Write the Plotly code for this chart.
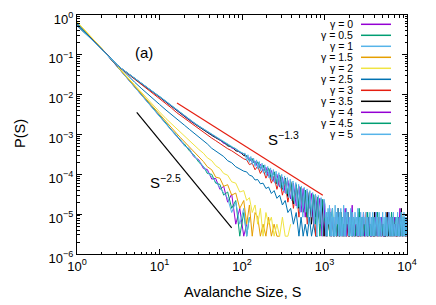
import plotly.graph_objects as go

# quantised probability levels (1..6 events per bin)
F, F2, F3, F4, F5, F6 = 2.8e-6, 5.6e-6, 8.4e-6, 1.12e-5, 1.4e-5, 1.68e-5

# avalanche sizes (main grid up to ~1e3)
S_MAIN = [1, 2, 3, 4, 5, 6, 7, 8, 9, 10,
          12, 14, 16, 18, 20, 23, 26, 30, 34, 38, 43, 48, 54, 60, 67, 75, 84, 94, 105,
          114, 123, 133, 144, 155, 167, 180, 195, 210, 227, 245, 265, 286, 309, 334, 360, 389, 420, 454, 490,
          520, 551, 584, 619, 656, 696, 738, 782, 829, 879, 932, 988]
# coarse tail sizes 1e3..1e4
S_TAIL = [1028, 1069, 1112, 1157, 1203, 1251, 1301, 1353, 1407, 1463, 1522, 1583, 1646, 1712, 1780,
          1851, 1925, 2002, 2082, 2166, 2252, 2342, 2436, 2533, 2635, 2740, 2850, 2964, 3082, 3206,
          3334, 3467, 3606, 3750, 3900, 4056, 4218, 4387, 4562, 4745, 4935, 5132, 5337, 5551, 5773,
          6004, 6244, 6494, 6754, 7024, 7305, 7597, 7901, 8217, 8545, 8887, 9243, 9612, 9997]
# finer sizes used by the gamma = 5 curve
S_MID_FINE = [109, 114, 118, 123, 128, 133, 138, 144, 150, 156, 162, 168, 175, 182, 189, 197, 205, 213,
              222, 230, 240, 249, 259, 270, 280, 292, 303, 316, 328, 341, 355, 369, 384, 399, 415, 432,
              449, 467, 486, 505, 525, 546, 568, 591, 615, 639, 665, 692, 719, 748, 778, 809, 842, 875,
              910, 947, 985]
S_TAIL_FINE = [1020, 1040, 1061, 1082, 1104, 1126, 1149, 1172, 1195, 1219, 1243, 1268, 1294, 1319, 1346,
               1373, 1400, 1428, 1457, 1486, 1516, 1546, 1577, 1608, 1641, 1673, 1707, 1741, 1776, 1811,
               1848, 1885, 1922, 1961, 2000, 2040, 2081, 2122, 2165, 2208, 2252, 2297, 2343, 2390, 2438,
               2487, 2536, 2587, 2639, 2692, 2745, 2800, 2856, 2913, 2972, 3031, 3092, 3154, 3217, 3281,
               3347, 3414, 3482, 3551, 3623, 3695, 3769, 3844, 3921, 4000, 4080, 4161, 4245, 4329, 4416,
               4505, 4595, 4687, 4780, 4876, 4973, 5073, 5174, 5278, 5383, 5491, 5601, 5713, 5827, 5944,
               6063, 6184, 6307, 6434, 6562, 6694, 6827, 6964, 7103, 7245, 7390, 7538, 7689, 7842, 7999,
               8159, 8322, 8489, 8659, 8832, 9009, 9189, 9373, 9560, 9751, 9946]

P_G00 = [0.646, 0.141, 0.0537, 0.0269, 0.0158, 0.0102, 0.00708, 0.00513, 0.00389, 0.00295,
         1.91e-3, 1.35e-3, 9.3e-4, 7.4e-4, 5.4e-4, 4.3e-4, 2.8e-4, 2.3e-4, 1.41e-4, 1.32e-4,
         7.6e-5, 7.9e-5, 4.2e-5, 5.0e-5, 2.0e-5, 3.2e-5, F2, 1.4e-5, F,
         F2]
P_G05 = [0.63, 0.142, 0.0540, 0.0272, 0.0160, 0.0103, 0.0071, 0.0052, 0.0039, 0.0030,
         1.93e-3, 1.28e-3, 9.8e-4, 7.0e-4, 5.8e-4, 3.9e-4, 3.1e-4, 2.0e-4, 1.6e-4, 1.05e-4,
         1.0e-4, 6.0e-5, 5.6e-5, 3.0e-5, 3.6e-5, 1.4e-5, 2.2e-5, F, 1.1e-5,
         F, F3]
P_G10 = [0.64, 0.140, 0.0535, 0.0268, 0.0157, 0.0101, 0.0070, 0.0051, 0.0038, 0.0029,
         1.88e-3, 1.32e-3, 9.1e-4, 7.6e-4, 5.2e-4, 4.4e-4, 2.9e-4, 2.2e-4, 1.5e-4, 1.15e-4,
         8.5e-5, 6.6e-5, 4.6e-5, 3.4e-5, 2.5e-5, 1.1e-5, 2.0e-5, F2, 1.4e-5,
         F, F3]
P_G15 = [0.66, 0.143, 0.0545, 0.0275, 0.0162, 0.0106, 0.0074, 0.0054, 0.0041, 0.0031,
         2.1e-3, 1.45e-3, 1.08e-3, 8.3e-4, 6.6e-4, 4.8e-4, 3.9e-4, 2.7e-4, 2.1e-4, 1.55e-4,
         1.3e-4, 8.5e-5, 8.0e-5, 5.0e-5, 5.5e-5, 3.0e-5, 3.4e-5, 1.4e-5, 2.2e-5,
         F2, 1.7e-5, F, 1.1e-5, F3, F, F2, F, F3, F, F2, F, F]
P_G20 = [0.68, 0.145, 0.0550, 0.0285, 0.0170, 0.0112, 0.0080, 0.0060, 0.0047, 0.0037,
         2.5e-3, 1.85e-3, 1.40e-3, 1.15e-3, 9.0e-4, 7.2e-4, 5.5e-4, 4.2e-4, 3.4e-4, 2.6e-4,
         2.2e-4, 1.65e-4, 1.4e-4, 1.05e-4, 9.5e-5, 6.5e-5, 6.0e-5, 3.6e-5, 3.9e-5,
         2.2e-5, 2.6e-5, 1.1e-5, 1.7e-5, F2, 1.4e-5, F, 1.1e-5, F2, F3, F, F2, F, F3, F, F, F2]
P_G25 = [0.60, 0.139, 0.0570, 0.0320, 0.0205, 0.0145, 0.0108, 0.0084, 0.0068, 0.0057,
         4.1e-3, 3.2e-3, 2.5e-3, 2.1e-3, 1.72e-3, 1.35e-3, 1.10e-3, 8.6e-4, 7.1e-4, 5.8e-4,
         4.5e-4, 3.9e-4, 3.2e-4, 2.8e-4, 2.2e-4, 1.95e-4, 1.55e-4, 1.35e-4, 1.2e-4,
         1.15e-4, 9.5e-5, 9.0e-5, 7.2e-5, 7.4e-5, 5.8e-5, 6.0e-5, 4.4e-5, 4.8e-5, 3.3e-5,
         3.9e-5, 2.5e-5, 3.0e-5, 1.7e-5, 2.2e-5, 1.1e-5, 1.4e-5, F2, 1.1e-5, F,
         F3, F, F2, F, F3, F, F2, F, F]
P_G30 = [0.55, 0.138, 0.0560, 0.0352, 0.0246, 0.0186, 0.0146, 0.0118, 0.0097, 0.0082,
         6.0e-3, 4.6e-3, 3.6e-3, 3.0e-3, 2.52e-3, 2.03e-3, 1.68e-3, 1.35e-3, 1.14e-3, 9.6e-4,
         8.1e-4, 7.0e-4, 5.9e-4, 5.3e-4, 4.4e-4, 3.9e-4, 3.3e-4, 2.9e-4, 2.45e-4,
         2.3e-4, 1.75e-4, 1.9e-4, 1.3e-4, 1.6e-4, 1.05e-4, 1.35e-4, 8.0e-5, 1.1e-4, 6.0e-5,
         9.0e-5, 4.2e-5, 7.4e-5, 3.0e-5, 6.0e-5, 2.0e-5, 5.0e-5, F5, 4.2e-5, F3,
         3.6e-5, F4, 3.0e-5, F2, 2.6e-5, F3, 2.2e-5, F, 2.0e-5, F2, F6, F]
P_G30_TAIL = [F3, F, F2, F4, F, F2, F, F3, F, F2, F, F4, F, F2, F, F3, F, F, F2, F,
              F3, F, F2, F, F, F3, F, F2, F, F4, F, F2, F, F3, F, F, F2, F, F3, F,
              F2, F, F, F4, F, F2, F, F3, F, F2, F, F, F3, F, F2, F, F3, F, F]
P_G35 = [0.55, 0.138, 0.0562, 0.0355, 0.0251, 0.0191, 0.0151, 0.0123, 0.0102, 0.0087,
         6.46e-3, 5.01e-3, 3.98e-3, 3.31e-3, 2.82e-3, 2.29e-3, 1.91e-3, 1.55e-3, 1.32e-3, 1.12e-3,
         9.5e-4, 8.3e-4, 7.1e-4, 6.4e-4, 5.2e-4, 4.9e-4, 3.9e-4, 3.7e-4, 2.95e-4,
         2.9e-4, 2.2e-4, 2.45e-4, 1.75e-4, 2.0e-4, 1.4e-4, 1.7e-4, 1.1e-4, 1.4e-4, 8.0e-5,
         1.15e-4, 5.8e-5, 9.5e-5, 4.2e-5, 8.0e-5, 2.8e-5, 6.6e-5, 1.8e-5, 5.5e-5, F5,
         4.7e-5, F4, 4.0e-5, F3, 3.5e-5, F2, 3.0e-5, F3, 2.6e-5, F2, 2.3e-5, F]
P_G35_TAIL = [F3, F, F2, F4, F, F3, F, F2, F, F5, F, F2, F3, F, F2, F, F4, F, F2, F,
              F3, F, F2, F, F4, F, F2, F3, F, F2, F, F3, F, F2, F, F4, F, F2, F, F3,
              F, F2, F, F, F4, F, F2, F, F3, F, F2, F, F3, F, F5, F, F2, F, F3]
P_G40 = [0.55, 0.138, 0.0563, 0.0357, 0.0253, 0.0193, 0.0153, 0.0125, 0.0104, 0.0089,
         6.6e-3, 5.1e-3, 4.05e-3, 3.38e-3, 2.88e-3, 2.34e-3, 1.95e-3, 1.59e-3, 1.35e-3, 1.15e-3,
         9.8e-4, 8.5e-4, 7.3e-4, 6.0e-4, 5.7e-4, 4.6e-4, 4.3e-4, 3.5e-4, 3.25e-4,
         2.75e-4, 2.6e-4, 2.0e-4, 2.15e-4, 1.5e-4, 1.8e-4, 1.2e-4, 1.5e-4, 9.0e-5, 1.25e-4,
         6.5e-5, 1.0e-4, 4.8e-5, 8.5e-5, 3.4e-5, 7.0e-5, 2.4e-5, 6.0e-5, 1.6e-5, 5.0e-5,
         F4, 4.4e-5, F3, 3.8e-5, F5, 3.3e-5, F2, 2.9e-5, F3, 2.5e-5, F, 2.2e-5]
P_G40_TAIL = [F, F3, F2, F5, F, F3, F, F2, F4, F, F3, F, F2, F, F5, F, F3, F, F2, F6,
              F, F2, F, F3, F, F2, F, F4, F, F2, F, F3, F, F, F2, F, F4, F, F2, F,
              F3, F, F, F2, F, F4, F, F2, F, F3, F, F2, F, F5, F, F2, F, F3, F]
P_G45 = [0.545, 0.1375, 0.0564, 0.0359, 0.0255, 0.0195, 0.0155, 0.0126, 0.0105, 0.0090,
         6.7e-3, 5.2e-3, 4.15e-3, 3.45e-3, 2.94e-3, 2.38e-3, 1.99e-3, 1.62e-3, 1.38e-3, 1.17e-3,
         9.9e-4, 8.7e-4, 7.4e-4, 6.6e-4, 5.6e-4, 4.8e-4, 4.4e-4, 3.6e-4, 3.3e-4,
         2.9e-4, 2.3e-4, 2.45e-4, 1.8e-4, 2.05e-4, 1.45e-4, 1.7e-4, 1.15e-4, 1.4e-4, 8.5e-5,
         1.15e-4, 6.2e-5, 9.2e-5, 4.5e-5, 7.6e-5, 3.2e-5, 6.4e-5, 2.2e-5, 5.4e-5, 1.5e-5,
         4.6e-5, F5, 4.0e-5, F3, 3.5e-5, F4, 3.1e-5, F2, 2.7e-5, F, 2.4e-5, F3]
P_G45_TAIL = [F2, F, F4, F, F3, F5, F, F2, F, F3, F, F4, F, F2, F, F3, F2, F, F4, F,
              F3, F, F2, F, F5, F, F3, F, F2, F, F4, F, F2, F, F3, F, F2, F4, F, F3,
              F, F2, F, F3, F, F2, F, F4, F, F2, F3, F, F2, F, F4, F, F3, F, F2]
P_G50 = [0.54, 0.137, 0.0565, 0.0360, 0.0256, 0.0196, 0.0156, 0.0127, 0.0106, 0.0091,
         6.8e-3, 5.25e-3, 4.2e-3, 3.48e-3, 2.97e-3, 2.41e-3, 2.01e-3, 1.64e-3, 1.39e-3, 1.18e-3,
         1.0e-3, 8.8e-4, 7.5e-4, 6.5e-4, 5.7e-4, 4.95e-4, 4.3e-4, 3.75e-4, 3.3e-4]
P_G50_MID = [3.4e-4, 2.2e-4, 3.1e-4, 2.0e-4, 2.8e-4, 1.78e-4, 2.57e-4, 1.58e-4, 2.3e-4, 1.38e-4,
             2.1e-4, 1.23e-4, 1.9e-4, 1.07e-4, 1.74e-4, 9.3e-5, 1.58e-4, 8.1e-5, 1.45e-4, 7.1e-5,
             1.32e-4, 6.0e-5, 1.2e-4, 5.2e-5, 1.1e-4, 4.5e-5, 1.0e-4, 3.8e-5, 9.1e-5, 3.2e-5,
             8.3e-5, 2.6e-5, 7.6e-5, 2.2e-5, 6.8e-5, 1.8e-5, 6.2e-5, F5, 5.6e-5, F4,
             5.1e-5, F3, 4.7e-5, F4, 4.3e-5, F2, 3.9e-5, F3, 3.5e-5, F2,
             3.2e-5, F, 2.95e-5, F2, 2.6e-5, F, 2.4e-5]
P_G50_TAIL = [F6, F, F4, F, F5, F2, F6, F, F4, F, F5, F, F3, F, F6, F, F4, F2, F5, F,
              F4, F, F5, F, F3, F, F6, F, F4, F, F5, F2, F4, F, F3, F, F5, F, F4, F,
              F3, F, F4, F2, F3, F, F5, F, F3, F, F4, F, F3, F, F4, F2, F3, F, F4, F,
              F3, F, F2, F4, F, F3, F, F4, F, F3, F, F2, F4, F, F3, F, F4, F, F3, F,
              F2, F4, F, F3, F, F4, F, F3, F, F2, F4, F, F3, F, F3, F, F4, F, F2, F,
              F3, F, F4, F, F3, F, F2, F4, F, F3, F, F4, F, F3, F, F3]

GAMMA_LABELS = ["0", "0.5", "1", "1.5", "2", "2.5", "3", "3.5", "4", "4.5", "5"]
COLORS = ["#9400D3", "#009E73", "#56B4E9", "#E69F00", "#F0E442", "#0072B2",
          "#E51E10", "#000000", "#9400D3", "#009E73", "#56B4E9"]


def build(parts):
    xs, ys = [], []
    for s, p in parts:
        n = min(len(s), len(p))
        xs += list(s[:n])
        ys += list(p[:n])
    return xs, ys


CURVES = [
    build([(S_MAIN, P_G00)]),
    build([(S_MAIN, P_G05)]),
    build([(S_MAIN, P_G10)]),
    build([(S_MAIN, P_G15)]),
    build([(S_MAIN, P_G20)]),
    build([(S_MAIN, P_G25)]),
    build([(S_MAIN, P_G30), (S_TAIL, P_G30_TAIL)]),
    build([(S_MAIN, P_G35), (S_TAIL, P_G35_TAIL)]),
    build([(S_MAIN, P_G40), (S_TAIL, P_G40_TAIL)]),
    build([(S_MAIN, P_G45), (S_TAIL, P_G45_TAIL)]),
    build([(S_MAIN, P_G50), (S_MID_FINE, P_G50_MID), (S_TAIL_FINE, P_G50_TAIL)]),
]

REF_STEEP_S = [5.3, 75]
REF_STEEP_P = [3.6e-3, 4.5e-6]
REF_SHALLOW_S = [16.3, 955]
REF_SHALLOW_P = [6.2e-3, 3.0e-5]

X_TICKS = [1, 10, 100, 1000, 10000]
X_TICKTEXT = ["10<sup>0</sup>", "10<sup>1</sup>", "10<sup>2</sup>", "10<sup>3</sup>", "10<sup>4</sup>"]
Y_TICKS = [1e-6, 1e-5, 1e-4, 1e-3, 1e-2, 1e-1, 1]
Y_TICKTEXT = ["10<sup>−6</sup>", "10<sup>−5</sup>", "10<sup>−4</sup>", "10<sup>−3</sup>",
              "10<sup>−2</sup>", "10<sup>−1</sup>", "10<sup>0</sup>"]

FONT = "Liberation Sans, Arial, Helvetica, sans-serif"

fig = go.Figure()
for (xs, ys), c in zip(CURVES, COLORS):
    fig.add_trace(go.Scatter(x=xs, y=ys, mode="lines", line=dict(color=c, width=1),
                             showlegend=False, hoverinfo="skip"))

fig.add_trace(go.Scatter(x=REF_STEEP_S, y=REF_STEEP_P, mode="lines",
                         line=dict(color="black", width=1.2), showlegend=False))
fig.add_trace(go.Scatter(x=REF_SHALLOW_S, y=REF_SHALLOW_P, mode="lines",
                         line=dict(color="#E51E10", width=1.2), showlegend=False))

minor_x = [m * 10 ** k for k in range(0, 4) for m in range(2, 10)]
minor_y = [m * 10.0 ** k for k in range(-6, 0) for m in range(2, 10)]

axis_common = dict(type="log", showgrid=False, zeroline=False, showline=True,
                   linecolor="black", linewidth=1, mirror="allticks",
                   ticks="inside", ticklen=5, tickwidth=1, tickcolor="black",
                   tickfont=dict(family=FONT, size=13, color="black"),
                   tickmode="array", ticklabeloverflow="allow")

fig.update_xaxes(range=[0, 4], tickvals=X_TICKS, ticktext=X_TICKTEXT,
                 minor=dict(tickmode="array", tickvals=minor_x, ticks="inside",
                            ticklen=2.5, tickcolor="black", showgrid=False),
                 **axis_common)
fig.update_yaxes(range=[-6, 0], tickvals=Y_TICKS, ticktext=Y_TICKTEXT, ticklabelshift=4,
                 minor=dict(tickmode="array", tickvals=minor_y, ticks="inside",
                            ticklen=2.5, tickcolor="black", showgrid=False),
                 **axis_common)

annotations = [
    dict(x=0.813, y=-0.93, xref="x", yref="y", text="(a)", showarrow=False,
         font=dict(family=FONT, size=15, color="black")),
    dict(x=1.07, y=-4.18, xref="x", yref="y", text="S<sup>−2.5</sup>", showarrow=False,
         font=dict(family=FONT, size=15, color="black")),
    dict(x=2.50, y=-3.10, xref="x", yref="y", text="S<sup>−1.3</sup>", showarrow=False,
         font=dict(family=FONT, size=15, color="black")),
    dict(x=0.5, y=-0.159, xref="paper", yref="paper", text="Avalanche Size, S",
         showarrow=False, xanchor="center", yanchor="middle",
         font=dict(family=FONT, size=14.5, color="black")),
    dict(x=-0.1727, y=0.502, xref="paper", yref="paper", text="P(S)", textangle=-90,
         showarrow=False, xanchor="center", yanchor="middle",
         font=dict(family=FONT, size=14.5, color="black")),
]

shapes = []
PLOT_L, PLOT_W, PLOT_B, PLOT_H = 77, 330, 254, 239
for i, (lab, c) in enumerate(zip(GAMMA_LABELS, COLORS)):
    ypx = 24.3 + 11 * i
    yp = (PLOT_B - ypx) / PLOT_H
    annotations.append(dict(x=(355 - PLOT_L) / PLOT_W, y=yp, xref="paper", yref="paper",
                            text="γ = " + lab, showarrow=False, xanchor="right",
                            yanchor="middle", font=dict(family=FONT, size=10.5, color="black")))
    shapes.append(dict(type="line", xref="paper", yref="paper",
                       x0=(361 - PLOT_L) / PLOT_W, x1=(391 - PLOT_L) / PLOT_W, y0=yp, y1=yp,
                       line=dict(color=c, width=1.5)))

# the page body adds an 8px offset, so margins compensate for it
fig.update_layout(width=436, height=305, margin=dict(l=69, r=37, t=7, b=59, autoexpand=False),
                  paper_bgcolor="white", plot_bgcolor="white",
                  annotations=annotations, shapes=shapes, showlegend=False,
                  font=dict(family=FONT, color="black"))

fig.write_html("out.html")
